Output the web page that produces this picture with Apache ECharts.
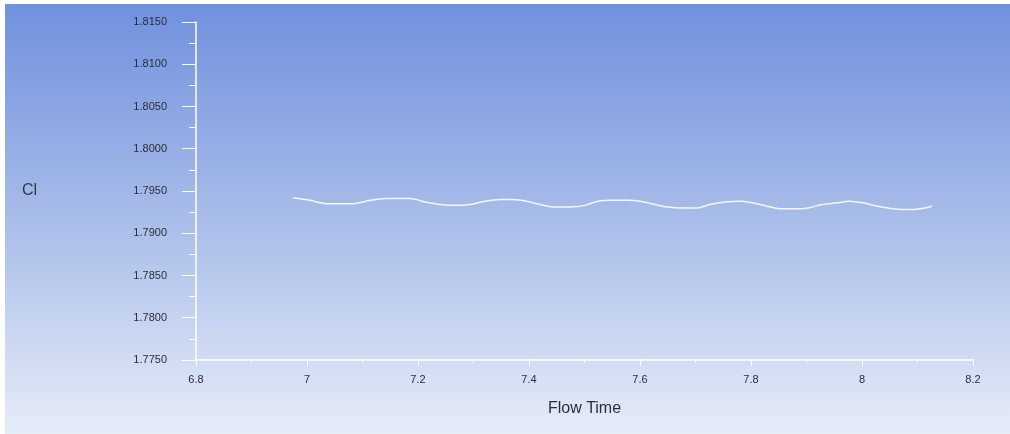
<!DOCTYPE html>
<html>
<head>
<meta charset="utf-8">
<style>
  html, body { margin: 0; padding: 0; background: #ffffff; }
  #chart { width: 1010px; height: 434px; }
</style>
<script src="https://cdn.jsdelivr.net/npm/echarts@6/dist/echarts.min.js"></script>
</head>
<body>
<div id="chart"></div>
<script>
// Lift coefficient history against flow time
const flowTime = [
  6.975, 7.005, 7.036, 7.059, 7.083, 7.114, 7.141, 7.162, 7.186, 7.213,
  7.240, 7.267, 7.294, 7.321, 7.348, 7.371, 7.396, 7.420, 7.447, 7.474,
  7.501, 7.524, 7.550, 7.577, 7.600, 7.627, 7.650, 7.677, 7.703, 7.726,
  7.753, 7.780, 7.802, 7.829, 7.852, 7.879, 7.903, 7.928, 7.955, 7.978,
  8.002, 8.029, 8.056, 8.081, 8.105, 8.126
];
const cl = [
  1.7942, 1.7939, 1.7935, 1.7935, 1.7935, 1.7939, 1.7941, 1.7941, 1.7941, 1.7937,
  1.7934, 1.7933, 1.7934, 1.7938, 1.7940, 1.7940, 1.7938, 1.7934, 1.7931, 1.7931,
  1.7933, 1.7938, 1.7939, 1.7939, 1.7938, 1.7934, 1.7931, 1.7930, 1.7930, 1.7934,
  1.7937, 1.7938, 1.7936, 1.7932, 1.7929, 1.7929, 1.7930, 1.7934, 1.7936, 1.7938,
  1.7936, 1.7932, 1.7929, 1.7928, 1.7929, 1.7932
];
const xRange = [6.8, 8.2];
const yRange = [1.775, 1.815];
const xStep = 0.2;
const yStep = 0.005;
const xTitle = 'Flow Time';
const yTitle = 'Cl';

const chart = echarts.init(document.getElementById('chart'), null, { renderer: 'canvas' });
const labelFont = 'Liberation Sans, Arial, sans-serif';

chart.setOption({
  animation: false,
  graphic: [{
    type: 'rect',
    z: -10,
    silent: true,
    shape: { x: 5, y: 4, width: 1005, height: 430 },
    style: {
      fill: new echarts.graphic.LinearGradient(0, 0, 0, 1, [
        { offset: 0, color: '#7191df' },
        { offset: 0.45, color: '#a3b8e8' },
        { offset: 1, color: '#e6ecf8' }
      ])
    }
  }],
  grid: { left: 196, right: 37, top: 22, bottom: 74, containLabel: false },
  xAxis: {
    type: 'value',
    min: xRange[0], max: xRange[1], interval: xStep,
    name: xTitle,
    nameLocation: 'middle',
    nameGap: 41,
    nameTextStyle: { color: '#2a2e3a', fontSize: 16, fontFamily: labelFont },
    axisLine: { show: true, lineStyle: { color: '#ffffff', width: 1.5 } },
    axisTick: { show: true, length: 6, inside: false, lineStyle: { color: '#ffffff', width: 1 } },
    minorTick: { show: true, splitNumber: 2, length: 3, lineStyle: { color: '#ffffff', width: 1 } },
    splitLine: { show: false },
    axisLabel: {
      margin: 14, color: '#2a2e3a', fontSize: 11, fontFamily: labelFont,
      formatter: v => String(parseFloat(v.toFixed(1)))
    }
  },
  yAxis: {
    type: 'value',
    min: yRange[0], max: yRange[1], interval: yStep,
    name: yTitle,
    nameLocation: 'middle',
    nameRotate: 0,
    nameGap: 174,
    nameTextStyle: { color: '#333846', fontSize: 16, fontFamily: labelFont, align: 'left' },
    axisLine: { show: true, lineStyle: { color: '#ffffff', width: 1.5 } },
    axisTick: { show: true, length: 14, inside: false, lineStyle: { color: '#ffffff', width: 1 } },
    minorTick: { show: true, splitNumber: 2, length: 7, lineStyle: { color: '#ffffff', width: 1 } },
    splitLine: { show: false },
    axisLabel: {
      margin: 29, color: '#2a2e3a', fontSize: 11, fontFamily: labelFont,
      formatter: v => v.toFixed(4)
    }
  },
  series: [{
    type: 'line',
    data: flowTime.map((t, i) => [t, cl[i]]),
    smooth: 0.3,
    showSymbol: false,
    lineStyle: { color: '#f4f7ff', width: 1.5 }
  }]
});
</script>
</body>
</html>
